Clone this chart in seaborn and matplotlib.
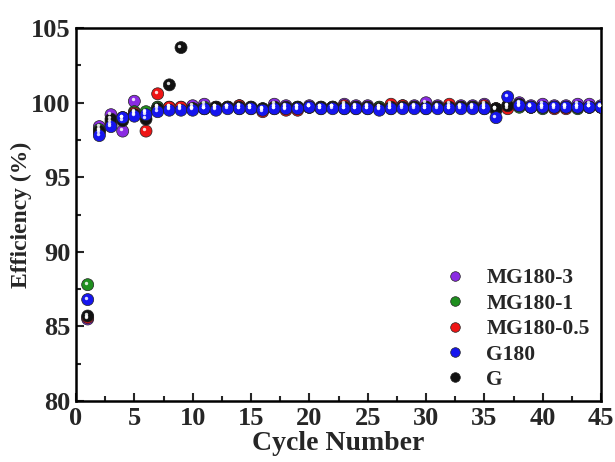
import numpy as np
import pandas as pd
import matplotlib
matplotlib.use("Agg")
import matplotlib.pyplot as plt
import matplotlib.transforms as mtransforms
from matplotlib.ticker import MultipleLocator
import seaborn as sns

cycles = list(range(1, 46))

mg180_3 = [85.5, 98.4, 99.2, 98.1, 100.1, 99.3, 99.7, 99.6, 99.7, 99.8,
           99.9, 99.7, 99.7, 99.8, 99.7, 99.5, 99.9, 99.8, 99.7, 99.8,
           99.7, 99.7, 99.9, 99.8, 99.8, 99.7, 99.8, 99.8, 99.8, 100.0,
           99.8, 99.7, 99.8, 99.8, 99.9, 99.5, 99.8, 100.0, 99.8, 99.9,
           99.8, 99.8, 99.9, 99.9, 99.8]
mg180_1 = [87.8, 98.2, 98.7, 99.0, 99.4, 99.4, 99.7, 99.7, 99.6, 99.6,
           99.7, 99.6, 99.7, 99.6, 99.7, 99.6, 99.7, 99.6, 99.7, 99.7,
           99.6, 99.7, 99.6, 99.7, 99.6, 99.7, 99.6, 99.7, 99.7, 99.6,
           99.7, 99.6, 99.7, 99.7, 99.6, 99.6, 99.7, 99.7, 99.7, 99.6,
           99.7, 99.7, 99.6, 99.7, 99.7]
mg180_05 = [85.6, 98.0, 98.5, 99.0, 99.3, 98.1, 100.6, 99.7, 99.7, 99.6,
            99.6, 99.7, 99.7, 99.8, 99.6, 99.4, 99.6, 99.5, 99.5, 99.7,
            99.7, 99.7, 99.8, 99.6, 99.7, 99.6, 99.9, 99.8, 99.7, 99.7,
            99.7, 99.9, 99.7, 99.7, 99.8, 99.6, 99.6, 99.8, 99.7, 99.7,
            99.6, 99.6, 99.7, 99.7, 99.7]
g180 = [86.8, 97.8, 98.4, 99.0, 99.1, 99.2, 99.4, 99.5, 99.5, 99.5,
        99.6, 99.5, 99.6, 99.6, 99.6, 99.5, 99.6, 99.6, 99.6, 99.7,
        99.6, 99.6, 99.6, 99.6, 99.6, 99.5, 99.6, 99.6, 99.6, 99.6,
        99.6, 99.6, 99.6, 99.6, 99.6, 99.0, 100.4, 99.8, 99.7, 99.7,
        99.7, 99.7, 99.7, 99.7, 99.7]
g = [85.7, 98.1, 98.9, 98.8, 99.2, 98.9, 99.6, 101.2, 103.7, 99.6,
     99.6, 99.7, 99.7, 99.7, 99.7, 99.6, 99.7, 99.7, 99.7, 99.7,
     99.7, 99.7, 99.7, 99.7, 99.7, 99.6, 99.7, 99.7, 99.7, 99.7,
     99.7, 99.7, 99.7, 99.7, 99.7, 99.6, 99.8, 99.9, 99.7, 99.7,
     99.7, 99.7, 99.7, 99.7, 99.7]

legend_order = ["MG180-3", "MG180-1", "MG180-0.5", "G180", "G"]
colors = {"MG180-3": "#8a2be2", "MG180-1": "#1f8f1f", "MG180-0.5": "#ee1515",
          "G180": "#1515ee", "G": "#111111"}
draw_order = [("MG180-3", mg180_3), ("MG180-1", mg180_1), ("MG180-0.5", mg180_05),
              ("G", g), ("G180", g180)]

frames = [pd.DataFrame({"Cycle": cycles, "Eff": vals, "Sample": name})
          for name, vals in draw_order]
df = pd.concat(frames, ignore_index=True)

sns.set_theme(style="ticks")
plt.rcParams["font.family"] = ["Liberation Serif", "DejaVu Serif"]
plt.rcParams["font.weight"] = "bold"

fig = plt.figure(figsize=(6.15, 4.62), dpi=100)
ax = fig.add_axes([0.1236, 0.132, 0.8537, 0.807])

sns.scatterplot(data=df, x="Cycle", y="Eff", hue="Sample", hue_order=legend_order,
                palette=colors, s=75, linewidth=0.5, edgecolor="#222222",
                ax=ax, legend=True, zorder=3)

# highlight to mimic glossy spheres
hl = mtransforms.offset_copy(ax.transData, fig=fig, x=-1.3, y=1.3, units="points")
ax.scatter(df["Cycle"], df["Eff"], s=6, color="white", alpha=0.85,
           linewidth=0, transform=hl, zorder=4)

ax.set_xlim(0, 45)
ax.set_ylim(80, 105)
ax.xaxis.set_major_locator(MultipleLocator(5))
ax.xaxis.set_minor_locator(MultipleLocator(2.5))
ax.yaxis.set_major_locator(MultipleLocator(5))
ax.yaxis.set_minor_locator(MultipleLocator(2.5))
ax.tick_params(which="major", direction="in", length=6, width=1.5,
               labelsize=19, pad=4, top=False, right=False)
ax.tick_params(which="minor", direction="in", length=3.5, width=1.5,
               top=False, right=False)
for lab in ax.get_xticklabels() + ax.get_yticklabels():
    lab.set_fontweight("bold")
for sp in ax.spines.values():
    sp.set_linewidth(1.8)
    sp.set_color("black")

ax.set_xlabel("Cycle Number", fontsize=20, fontweight="bold", labelpad=1)
ax.set_ylabel("Efficiency (%)", fontsize=17, fontweight="bold", labelpad=-1)

handles, labels = ax.get_legend_handles_labels()
leg = ax.legend(handles, labels, loc="lower right", frameon=False,
                prop={"size": 15.5, "weight": "bold"}, markerscale=0.8,
                handlelength=1.2, handletextpad=0.85, labelspacing=0.25,
                borderaxespad=0.2, bbox_to_anchor=(1.003, -0.005))

fig.savefig("out.png", dpi=100)
